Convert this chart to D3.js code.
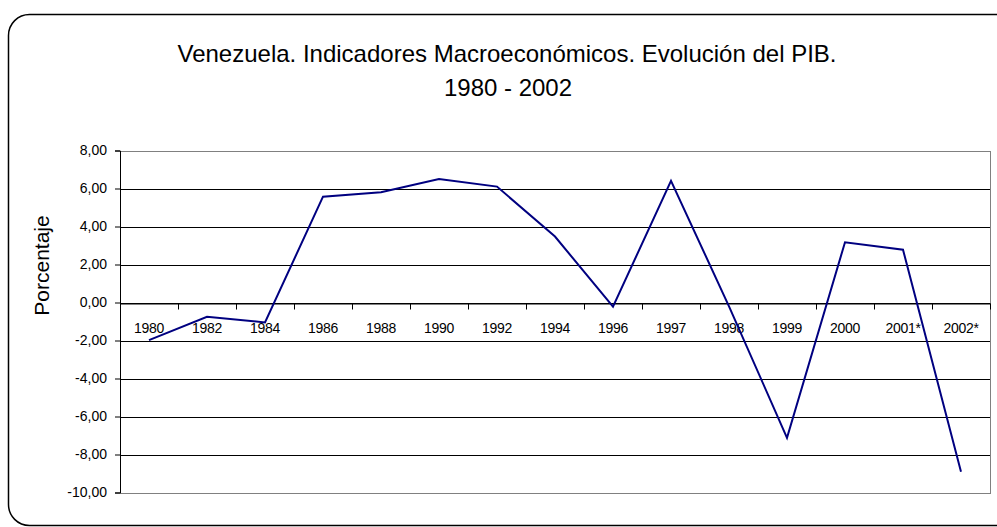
<!DOCTYPE html>
<html>
<head>
<meta charset="utf-8">
<script src="https://cdn.jsdelivr.net/npm/d3@7"></script>
<style>
    body { margin: 0; background: #fff; }
    svg { display: block; font-family: "Liberation Sans", Arial, sans-serif; }
    svg text { font-family: "Liberation Sans", Arial, sans-serif; }
    .grid-line { stroke: #000; stroke-width: 1; shape-rendering: crispEdges; }
</style>
</head>
<body>
<svg width="997" height="527"></svg>
<script>
// categorias (eje OX) y valores del PIB, %
const years = ['1980', '1982', '1984', '1986', '1988', '1990', '1992', '1994',
    '1996', '1997', '1998', '1999', '2000', '2001*', '2002*'];
const pib = [-1.98, -0.75, -1.05, 5.57, 5.8, 6.5, 6.1, 3.47,
    -0.22, 6.4, -0.2, -7.12, 3.17, 2.78, -8.91];
const yTicks = [-10, -8, -6, -4, -2, 0, 2, 4, 6, 8];
const titleLines = ['Venezuela. Indicadores Macroeconómicos. Evolución del PIB.', '1980 - 2002'];

const svg = d3.select('svg');

// marco del grafico
svg.append('rect')
    .attr('x', 8.5)
    .attr('y', 14.5)
    .attr('width', 1020)
    .attr('height', 511)
    .attr('rx', 21)
    .attr('fill', '#fff')
    .attr('stroke', '#000')
    .attr('stroke-width', 1.5);

// area del grafico
const plotLeft = 120, plotRight = 990, plotTop = 150.5, plotBottom = 492.5;

const scaleX = d3.scaleBand().domain(years).range([plotLeft, plotRight]).padding(0);
const scaleY = d3.scaleLinear().domain([-10, 8]).range([plotBottom, plotTop]);
const scaleTick = d3.scaleLinear().domain([0, years.length]).range([plotLeft, plotRight]);

// lineas de la rejilla
svg.append('g')
    .selectAll('line')
    .data(yTicks.filter(d => d > -10 && d < 8))
    .enter()
    .append('line')
    .classed('grid-line', true)
    .attr('x1', plotLeft)
    .attr('x2', plotRight)
    .attr('y1', d => Math.round(scaleY(d)) + 0.5)
    .attr('y2', d => Math.round(scaleY(d)) + 0.5);

// borde del area
svg.append('rect')
    .attr('x', plotLeft + 0.5)
    .attr('y', Math.round(plotTop) + 0.5)
    .attr('width', plotRight - plotLeft)
    .attr('height', Math.round(plotBottom) - Math.round(plotTop))
    .attr('fill', 'none')
    .attr('stroke', '#808080')
    .attr('stroke-width', 1.5)
    .style('shape-rendering', 'crispEdges');

// eje OY
const fmt = d => d3.format('.2f')(d).replace('.', ',').replace('−', '-');
const axisY = d3.axisLeft(scaleY)
    .tickValues(yTicks)
    .tickFormat(fmt)
    .tickSize(5)
    .tickPadding(8);

svg.append('g')
    .attr('class', 'y-axis')
    .attr('transform', `translate(${plotLeft}, 0)`)
    .call(axisY)
    .call(g => g.select('.domain').attr('stroke', '#000'))
    .selectAll('text')
    .style('font-size', '14px')
    .style('fill', '#000');

// eje OX: marcas en los limites de las categorias
const zeroY = Math.round(scaleY(0)) + 0.5;
svg.append('g')
    .attr('class', 'x-ticks')
    .attr('transform', `translate(0, ${zeroY})`)
    .call(d3.axisBottom(scaleTick).ticks(years.length).tickFormat('').tickSize(6).tickSizeOuter(0))
    .call(g => g.select('.domain').attr('stroke', '#000'));

// etiquetas del eje OX
svg.append('g')
    .attr('class', 'x-axis')
    .attr('transform', `translate(0, ${zeroY})`)
    .call(d3.axisBottom(scaleX).tickSize(0).tickPadding(20))
    .call(g => g.select('.domain').remove())
    .selectAll('text')
    .style('font-size', '14px')
    .style('letter-spacing', '-0.3px')
    .style('fill', '#000');

// linea del PIB
const line = d3.line()
    .x((d, i) => scaleX(years[i]) + scaleX.bandwidth() / 2)
    .y(d => scaleY(d));

svg.append('path')
    .datum(pib)
    .attr('d', line)
    .attr('fill', 'none')
    .attr('stroke', '#000080')
    .attr('stroke-width', 2);

// titulo
svg.append('text')
    .attr('x', 507)
    .attr('y', 62)
    .attr('text-anchor', 'middle')
    .style('font-size', '24px')
    .text(titleLines[0]);
svg.append('text')
    .attr('x', 508)
    .attr('y', 96)
    .attr('text-anchor', 'middle')
    .style('font-size', '24px')
    .text(titleLines[1]);

// titulo del eje OY
svg.append('text')
    .attr('transform', 'translate(48.5, 265.5) rotate(-90)')
    .attr('text-anchor', 'middle')
    .style('font-size', '21px')
    .text('Porcentaje');
</script>
</body>
</html>
